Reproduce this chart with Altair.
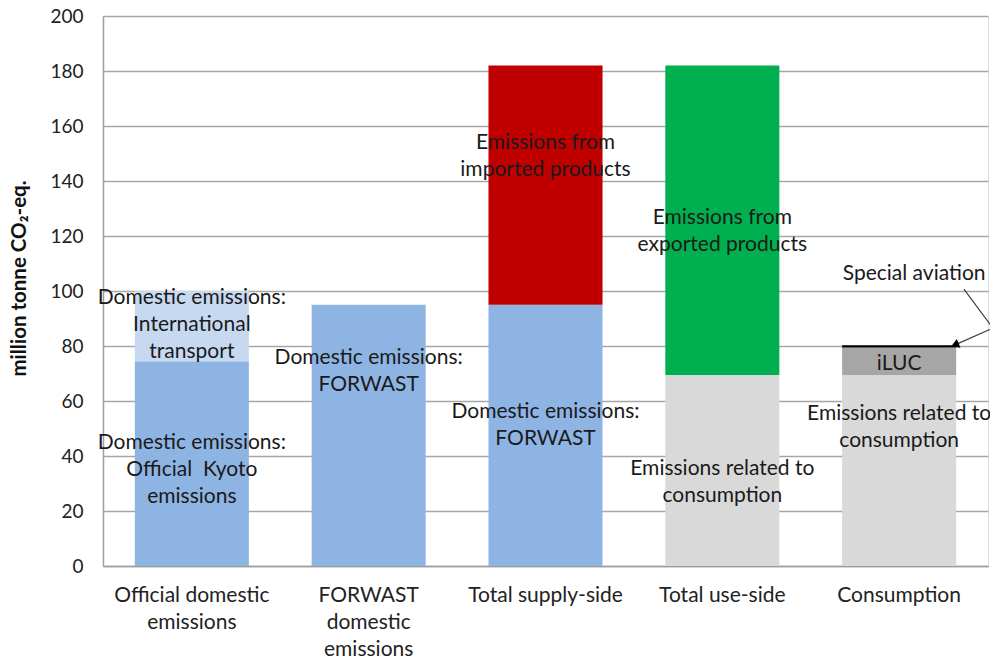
import altair as alt
import pandas as pd

# ---- data ----
categories = ["Official domestic|emissions", "FORWAST|domestic|emissions",
              "Total supply-side", "Total use-side", "Consumption"]

seg_category = [0, 0, 1, 2, 2, 3, 3, 4, 4, 4]
seg_key = ["kyoto", "transport", "forwast", "forwast", "imported",
           "consumption", "exported", "consumption", "iluc", "aviation"]
seg_value = [74.5, 25.5, 95, 95, 87, 69.5, 112.5, 69.5, 10, 0.8]
seg_order = [0, 1, 0, 0, 1, 0, 1, 0, 1, 2]

color_keys = ["kyoto", "transport", "forwast", "imported",
              "consumption", "exported", "iluc", "aviation"]
color_vals = ["#8EB4E3", "#C6D9F1", "#8EB4E3", "#C00000",
              "#D9D9D9", "#00B050", "#A6A6A6", "#000000"]

label_category = [0, 0, 1, 2, 2, 3, 3, 4, 4]
label_text = ["Domestic emissions:\nInternational\ntransport",
              "Domestic emissions:\nOfficial\u00a0 Kyoto\nemissions",
              "Domestic emissions:\nFORWAST",
              "Emissions from\nimported products",
              "Domestic emissions:\nFORWAST",
              "Emissions from\nexported products",
              "Emissions related to\nconsumption",
              "iLUC",
              "Emissions related to\nconsumption"]
# value at which the first line of each label sits
label_y = [97.5, 44.7, 75.6, 153.8, 56.0, 126.5, 35.3, 73.6, 55.3]

aviation_label = "Special aviation"
aviation_label_y = 106.3

# arrow path (category-index units, value units)
arrow_x = [4.864, 5.028, 4.82]
arrow_y = [100.7, 86.5, 80.6]

FONT = "Lato"
TXT = 21

bars_df = pd.DataFrame({
    "category": [categories[i] for i in seg_category],
    "segment": seg_key,
    "value": seg_value,
    "order": seg_order,
})
labels_df = pd.DataFrame({
    "category": [categories[i] for i in label_category],
    "text": label_text,
    "y": label_y,
})
aviation_df = pd.DataFrame({"category": [categories[4]], "text": [aviation_label],
                            "y": [aviation_label_y]})
arrow_df = pd.DataFrame({"x": arrow_x, "y": arrow_y, "i": [0, 1, 2]})
head_df = arrow_df.iloc[[2]]

x_enc = alt.X("category:N", sort=categories,
              scale=alt.Scale(paddingInner=0.355, paddingOuter=0.18),
              axis=alt.Axis(title=None, labelAngle=0, ticks=False,
                            labelExpr="split(datum.label, '|')",
                            labelFontSize=TXT, labelFont=FONT, labelColor="#222222",
                            labelPadding=18, labelLineHeight=27,
                            domainColor="#9E9E9E", domainWidth=1.5, grid=False))
y_scale = alt.Scale(domain=[0, 200], nice=False)

bars = alt.Chart(bars_df).mark_bar().encode(
    x=x_enc,
    y=alt.Y("value:Q", stack="zero", scale=y_scale,
            axis=alt.Axis(title="million tonne CO₂-eq.", values=list(range(0, 201, 20)),
                          ticks=False, labelFontSize=19, labelFont=FONT,
                          labelColor="#222222", labelPadding=20,
                          titleFontSize=20.5, titleFont=FONT, titleFontWeight="bold",
                          titleColor="#111111", titlePadding=20, titleY=262,
                          grid=True, gridColor="#A6A6A6", gridWidth=1.5,
                          domainColor="#9E9E9E", domainWidth=1.5)),
    color=alt.Color("segment:N", scale=alt.Scale(domain=color_keys, range=color_vals),
                    legend=None),
    order=alt.Order("order:Q", sort="ascending"),
)

texts = alt.Chart(labels_df).mark_text(
    font=FONT, fontSize=TXT, lineHeight=27, lineBreak="\n", baseline="middle",
    align="center", color="#1a1a1a"
).encode(
    x=alt.X("category:N", sort=categories),
    y=alt.Y("y:Q", scale=y_scale),
    text="text:N",
)

aviation_text = alt.Chart(aviation_df).mark_text(
    font=FONT, fontSize=TXT, baseline="middle", align="center", color="#1a1a1a", dx=15
).encode(
    x=alt.X("category:N", sort=categories),
    y=alt.Y("y:Q", scale=y_scale),
    text="text:N",
)

ax_scale = alt.Scale(domain=[0, 5], nice=False, zero=False)
arrow = alt.Chart(arrow_df).mark_line(color="#404040", strokeWidth=1.2, clip=False).encode(
    x=alt.X("x:Q", scale=ax_scale, axis=None),
    y=alt.Y("y:Q", scale=y_scale),
    order="i:Q",
)
head = alt.Chart(head_df).mark_point(shape="triangle", filled=True, color="#000000",
                                     size=90, angle=247, opacity=1, clip=False).encode(
    x=alt.X("x:Q", scale=ax_scale, axis=None),
    y=alt.Y("y:Q", scale=y_scale),
)

main = alt.layer(bars, texts, aviation_text)
annot = alt.layer(arrow, head)

chart = alt.layer(main, annot).resolve_scale(
    x="independent"
).properties(
    width=885, height=550,
    autosize=alt.AutoSizeParams(type="none"),
    padding={"left": 95, "top": 8, "right": 2, "bottom": 92},
).configure_view(stroke=None).configure(background="white")

chart.save("out.html", embed_options={"renderer": "svg", "actions": False})
